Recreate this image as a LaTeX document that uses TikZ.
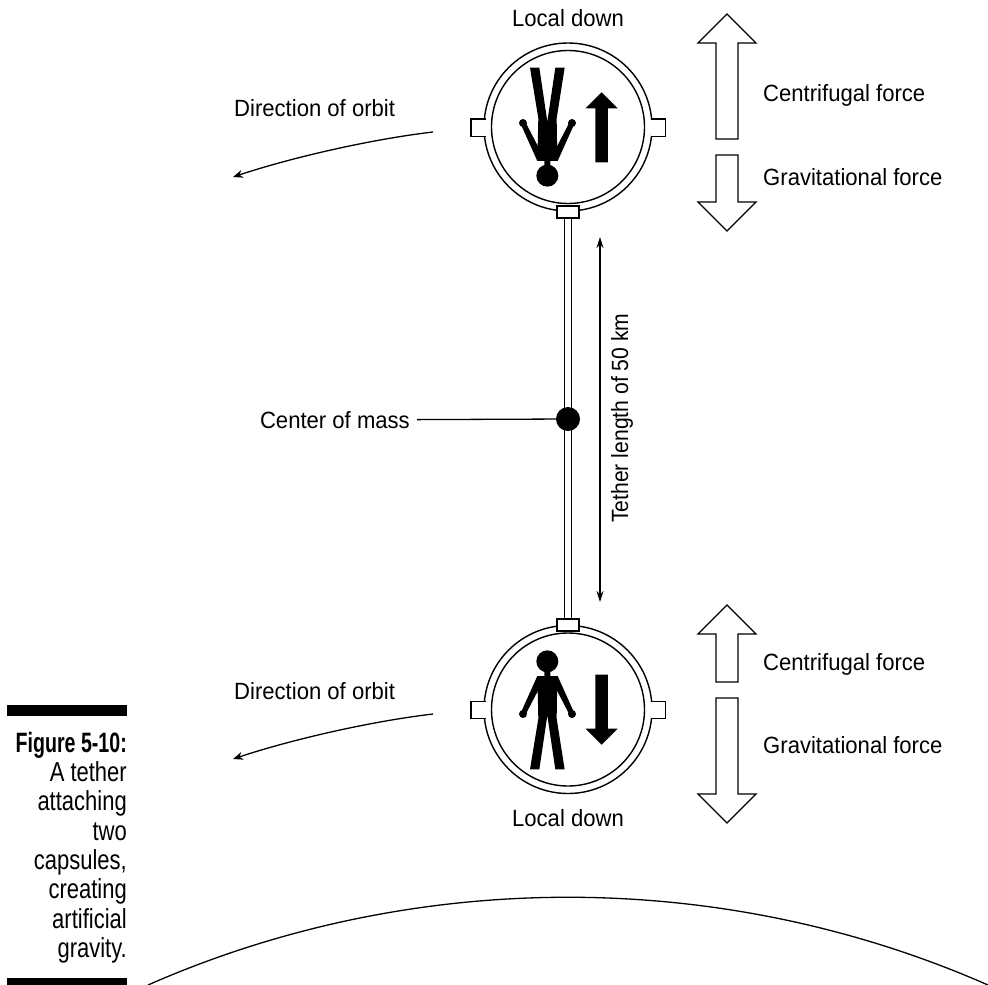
\documentclass[tikz,border=0pt]{standalone}
\usepackage{fontspec}
\usetikzlibrary{arrows.meta}
\setmainfont{Liberation Sans}
\newfontfamily\lblfont[FakeStretch=0.94]{Liberation Sans}
\newfontfamily\tetherfont[FakeStretch=0.9]{Liberation Sans}
\newfontfamily\capfont[FakeStretch=0.8]{Liberation Sans}
\newfontfamily\capbold[FakeStretch=0.7]{Liberation Sans Bold}
\tikzset{
  ink/.style={line width=1.4pt,draw=black},
  lbl/.style={font=\lblfont\fontsize{23.5}{28}\selectfont,inner sep=0pt,text=black},
  tetherlbl/.style={font=\tetherfont\fontsize{23.5}{28}\selectfont,inner sep=0pt,text=black},
  captext/.style={anchor=base east,inner sep=0pt,font=\capfont\fontsize{27.5}{29}\selectfont},
  capbtext/.style={anchor=base east,inner sep=0pt,font=\capbold\fontsize{28}{29}\selectfont},
  hull/.style={ink,fill=white,circle,inner sep=0pt},
  tabbox/.style={ink,fill=white,rectangle,inner sep=0pt},
  sidetab/.style={fill=white,draw=none,rectangle,inner sep=0pt,minimum width=14.4pt,minimum height=17pt},
  bigarrow/.style={line width=1.3pt,draw=black,fill=white,line join=miter},
  orbitline/.style={line width=1.3pt,-{Stealth[length=10pt,width=8pt]}},
  dimline/.style={line width=1.2pt,{Stealth[length=11pt,width=7pt]}-{Stealth[length=11pt,width=7pt]}},
  solidbar/.style={fill=black,draw=none}
}
\newcommand{\capsulefigure}{%
  \fill (240,113)--(268,113)--(292,275)--(316,113)--(344,113)--(320,265)--(322,393)--(301,393)--(301,420)--(283,420)--(283,393)--(262,393)--(265,265)--cycle;
  \fill (292,437) circle[radius=33];
  \fill (219,279) circle[radius=12];
  \fill (366,279) circle[radius=12];
  \fill (213,284)--(225,274)--(267,355)--(267,393)--(262,393)--cycle;
  \fill (372,284)--(360,274)--(318,355)--(318,393)--(323,393)--cycle;
  \fill (436,397)--(436,235)--(407,235)--(455,187)--(503,235)--(474,235)--(474,397)--cycle;
}
\newcommand{\lefttabline}[1]{\draw[ink] (#1.north east)--(#1.north west)--(#1.south west)--(#1.south east);}
\newcommand{\righttabline}[1]{\draw[ink] (#1.north west)--(#1.north east)--(#1.south east)--(#1.south west);}
\begin{document}
\begin{tikzpicture}[x=1pt,y=-1pt]
\useasboundingbox (0,0) rectangle (988,985);
% upper capsule
\node[hull,minimum size=168pt] (outer1) at (568,127) {};
\node[sidetab] (tl1) at (478.5,127.5) {};
\node[sidetab] (tr1) at (658,127.5) {};
\lefttabline{tl1}
\righttabline{tr1}
\node[hull,minimum size=153pt] (inner1) at (568,127) {};
% lower capsule
\node[hull,minimum size=168pt] (outer2) at (568,709.5) {};
\node[sidetab] (tl2) at (478.5,710) {};
\node[sidetab] (tr2) at (658,710) {};
\lefttabline{tl2}
\righttabline{tr2}
\node[hull,minimum size=153pt] (inner2) at (568,709.5) {};
% tether
\node[tabbox,minimum width=22pt,minimum height=12pt] (att1) at (568,212) {};
\node[tabbox,minimum width=22pt,minimum height=12pt] (att2) at (568,625) {};
\draw[line width=1.4pt,double=white,double distance=5.4pt] (att1.south) -- (att2.north);
\node[circle,fill=black,minimum size=24pt,inner sep=0pt] (com) at (568,419) {};
% people and small arrows
\begin{scope}[shift={(450,30)},x=0.3333pt,y=-0.3333pt]
  \capsulefigure
\end{scope}
\begin{scope}[shift={(450,807)},x=0.3333pt,y=0.3333pt]
  \capsulefigure
\end{scope}
% force arrows
\draw[bigarrow] (727,14)--(756,43)--(738,43)--(738,139)--(716,139)--(716,43)--(698,43)--cycle;
\draw[bigarrow] (727,231)--(756,202)--(738,202)--(738,155)--(716,155)--(716,202)--(698,202)--cycle;
\draw[bigarrow] (727,605)--(756,634)--(738,634)--(738,682)--(716,682)--(716,634)--(698,634)--cycle;
\draw[bigarrow] (727,823)--(756,794)--(738,794)--(738,698)--(716,698)--(716,794)--(698,794)--cycle;
% labels
\node[lbl,anchor=base west] (cf1) at (763,101) {Centrifugal force};
\node[lbl,anchor=base west] (gf1) at (763,185) {Gravitational force};
\node[lbl,anchor=base west] (cf2) at (763,670) {Centrifugal force};
\node[lbl,anchor=base west] (gf2) at (763,753) {Gravitational force};
\node[lbl,anchor=base] (ld1) at (568,27) {Local down};
\node[lbl,anchor=base] (ld2) at (568,826) {Local down};
\node[lbl,anchor=base west] (do1) at (234,116) {Direction of orbit};
\node[lbl,anchor=base west] (do2) at (234,699) {Direction of orbit};
\node[lbl,anchor=base east,inner xsep=7pt] (comlbl) at (417,428) {Center of mass};
\draw[line width=1.3pt] (comlbl.east) -- (com);
\node[tetherlbl,anchor=base west,rotate=90] (tl) at (628,523) {Tether length of 50 km};
% tether dimension
\coordinate (dimtop) at (600,237);
\coordinate (dimbot) at (600,602);
\draw[dimline] (dimtop) -- (dimbot);
% orbit arrows
\coordinate (o1s) at (433,132);
\coordinate (o1e) at (233,177);
\coordinate (o2s) at (433,714);
\coordinate (o2e) at (233,759);
\draw[orbitline] (o1s) .. controls (373,139) and (293,157) .. (o1e);
\draw[orbitline] (o2s) .. controls (373,721) and (293,739) .. (o2e);
% planet
\coordinate (pl) at (148,985);
\coordinate (pr) at (988,985);
\draw[line width=1.3pt] (pl) .. controls (414,868) and (722,868) .. (pr);
% caption
\fill[solidbar] (7,705) rectangle (127,716);
\fill[solidbar] (7,978) rectangle (127,985);
\node[capbtext] (c0) at (127,752) {Figure 5-10:};
\node[captext] (c1) at (127,781) {A tether};
\node[captext] (c2) at (127,810) {attaching};
\node[captext] (c3) at (127,840) {two};
\node[captext] (c4) at (127,869) {capsules,};
\node[captext] (c5) at (127,898) {creating};
\node[captext] (c6) at (127,928) {artificial};
\node[captext] (c7) at (127,957) {gravity.};
\end{tikzpicture}
\end{document}
